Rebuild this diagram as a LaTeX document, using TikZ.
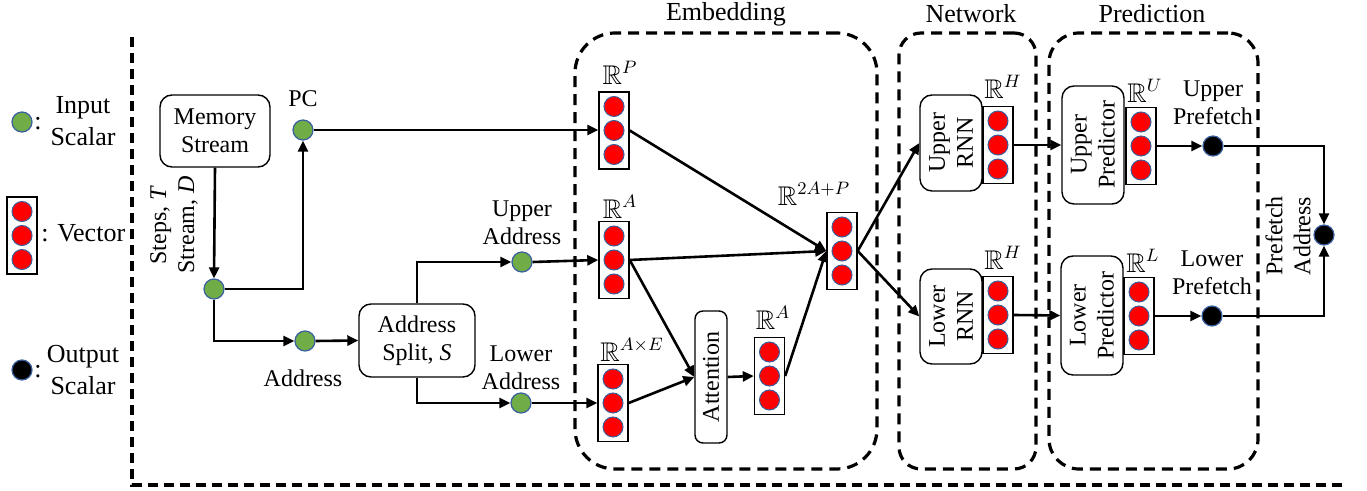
\documentclass[tikz,border=0pt]{standalone}
\usepackage{fontspec}
\usepackage{amssymb}
\setmainfont{Liberation Serif}
\usetikzlibrary{arrows.meta}
\definecolor{gfill}{HTML}{70AD47}
\definecolor{cedge}{HTML}{3A5F9E}
\newcommand{\vecnode}[3]{%
  \node[vbox] (#1) at (#2,#3) {};
  \node[rdot] (#1a) at (#2,#3-24) {};
  \node[rdot] (#1b) at (#2,#3) {};
  \node[rdot] (#1c) at (#2,#3+24) {};
}
\begin{document}
\begin{tikzpicture}[x=0.5pt,y=-0.5pt,
  font=\fontsize{12}{14}\selectfont,
  conn/.style={line width=1.3pt,-{Triangle[length=5.5pt,width=5pt]}},
  rbox/.style={draw, line width=0.7pt, rounded corners=6pt, align=center, inner sep=0pt},
  scal/.style={circle, draw=cedge, line width=0.6pt, fill=gfill, minimum size=10pt, inner sep=0pt},
  outsc/.style={circle, draw=cedge, line width=0.6pt, fill=black, minimum size=10pt, inner sep=0pt},
  vbox/.style={draw, line width=0.7pt, minimum width=15pt, minimum height=38.5pt, inner sep=0pt},
  rdot/.style={circle, draw=cedge, line width=0.5pt, fill=red, minimum size=10pt, inner sep=0pt},
  grp/.style={draw, line width=1.6pt, dash pattern=on 5.5pt off 3.5pt, minimum height=218pt, inner sep=0pt},
  legend/.style={font=\fontsize{13}{16}\selectfont, align=center, inner sep=1pt},
  lbl/.style={align=center, inner sep=0pt},
  mlbl/.style={inner sep=0pt, font=\fontsize{13.5}{15}\selectfont},
  title/.style={font=\fontsize{13}{15}\selectfont, inner sep=0pt}]
\useasboundingbox (0,0) rectangle (1367,491);

% outer dashed frame
\coordinate (ftop) at (132,37);
\coordinate (fcorner) at (132,485);
\coordinate (fend) at (1347,485);
\draw[line width=1.6pt, dash pattern=on 5pt off 3pt] (ftop) -- (fcorner) -- (fend);

% legend
\node[scal] (lgin) at (22,122) {};
\node[legend] (lgincolon) at (38,124) {:};
\node[legend] (lgintext) at (83,121) {Input\\Scalar};
\vecnode{lgv}{22}{235.5}
\node[legend, anchor=west] (lgvtext) at (39,233) {: Vector};
\node[outsc] (lgout) at (22,370) {};
\node[legend] (lgoutcolon) at (38,372) {:};
\node[legend] (lgouttext) at (83,370) {Output\\Scalar};

% group boxes
\node[grp, rounded corners=20pt, minimum width=151pt] (emb) at (726,251) {};
\node[grp, rounded corners=11pt, minimum width=68.5pt] (net) at (967.5,251) {};
\node[grp, rounded corners=15pt, minimum width=104.5pt] (pred) at (1153.5,251) {};
\node[title] (embt) at (726,14) {Embedding};
\node[title] (nett) at (971,14) {Network};
\node[title] (predt) at (1152,14) {Prediction};

% input part
\node[rbox, minimum width=55pt, minimum height=36pt] (ms) at (215,131) {Memory\\Stream};
\node[scal] (pc) at (303,130) {};
\node[lbl] (pclbl) at (303,99) {PC};
\node[scal] (jn) at (214,289) {};
\node[lbl, rotate=90] (stlbl) at (174,225) {Steps, \textit{T}\\Stream, \textit{D}};
\node[scal] (addr) at (305,341) {};
\node[lbl] (addrlbl) at (303,378) {Address};
\node[rbox, minimum width=58pt, minimum height=36.5pt] (split) at (417,340.5) {Address\\Split, \textit{S}};
\node[scal] (ua) at (522,262) {};
\node[lbl] (ualbl) at (522,223) {Upper\\Address};
\node[scal] (la) at (521,403) {};
\node[lbl] (lalbl) at (521,368) {Lower\\Address};

% embedding
\vecnode{rp}{614}{130.5}
\node[mlbl] (rplbl) at (620,73) {$\mathbb{R}^{P}$};
\vecnode{ra}{614}{260}
\node[mlbl] (ralbl) at (620,207) {$\mathbb{R}^{A}$};
\vecnode{rae}{613}{403}
\node[mlbl] (raelbl) at (632,350) {$\mathbb{R}^{A\times E}$};
\node[rbox, rotate=90, rounded corners=4pt, minimum width=66pt, minimum height=16pt] (att) at (711,377) {Attention};
\vecnode{ratwo}{769.5}{376}
\node[mlbl] (ratwolbl) at (773,318) {$\mathbb{R}^{A}$};
\vecnode{rtwo}{842}{251}
\node[mlbl] (rtwolbl) at (814,194) {$\mathbb{R}^{2A+P}$};

% network
\node[rbox, rotate=90, minimum width=48pt, minimum height=31pt] (urnn) at (951,143) {Upper\\RNN};
\node[rbox, rotate=90, minimum width=47.5pt, minimum height=31pt] (lrnn) at (951,316.5) {Lower\\RNN};
\vecnode{rhu}{998}{145}
\node[mlbl] (rhulbl) at (1003,87) {$\mathbb{R}^{H}$};
\vecnode{rhl}{998}{315}
\node[mlbl] (rhllbl) at (1003,258) {$\mathbb{R}^{H}$};

% prediction
\node[rbox, rotate=90, minimum width=59pt, minimum height=31pt] (upred) at (1093,145) {Upper\\Predictor};
\node[rbox, rotate=90, minimum width=59.5pt, minimum height=31pt] (lpred) at (1092,315.5) {Lower\\Predictor};
\vecnode{pvu}{1141}{146}
\node[mlbl] (pvulbl) at (1145,91) {$\mathbb{R}^{U}$};
\vecnode{pvl}{1139}{316}
\node[mlbl] (pvllbl) at (1143,261) {$\mathbb{R}^{L}$};
\node[outsc] (upf) at (1213,146) {};
\node[lbl] (upflbl) at (1213,103) {Upper\\Prefetch};
\node[outsc] (lpf) at (1212,316) {};
\node[lbl] (lpflbl) at (1212,273) {Lower\\Prefetch};
\node[outsc] (pa) at (1324,235) {};
\node[lbl, rotate=90] (palbl) at (1288,236) {Prefetch\\Address};

% connectors
\draw[conn] (ms.south) -- (jn.north);
\draw[conn] (jn.east) -| (pc.south);
\draw[conn] (jn.south) |- (addr.west);
\draw[conn] (pc.east) -- (pc.east -| rp.west);
\draw[conn] (addr.east) -- (split.west);
\draw[conn] (split.north) |- (ua.west);
\draw[conn] (split.south) |- (la.west);
\draw[conn] (ua.east) -- (ra.west);
\draw[conn] (la.east) -- (rae.west);
\draw[conn] (rp.east) -- (rtwo.west);
\draw[conn] (ra.east) -- (rtwo.west);
\draw[conn] (ra.east) -- (att.north);
\draw[conn] (rae.east) -- (att.north);
\draw[conn] (att.south) -- (ratwo.west);
\draw[conn] (ratwo.east) -- (rtwo.west);
\draw[conn] (rtwo.east) -- (urnn.north);
\draw[conn] (rtwo.east) -- (lrnn.north);
\draw[conn] (rhu.east) -- (upred.north);
\draw[conn] (rhl.east) -- (lpred.north);
\draw[conn] (pvu.east) -- (upf.west);
\draw[conn] (pvl.east) -- (lpf.west);
\draw[conn] (upf.east) -| (pa.north);
\draw[conn] (lpf.east) -| (pa.south);
\end{tikzpicture}
\end{document}
